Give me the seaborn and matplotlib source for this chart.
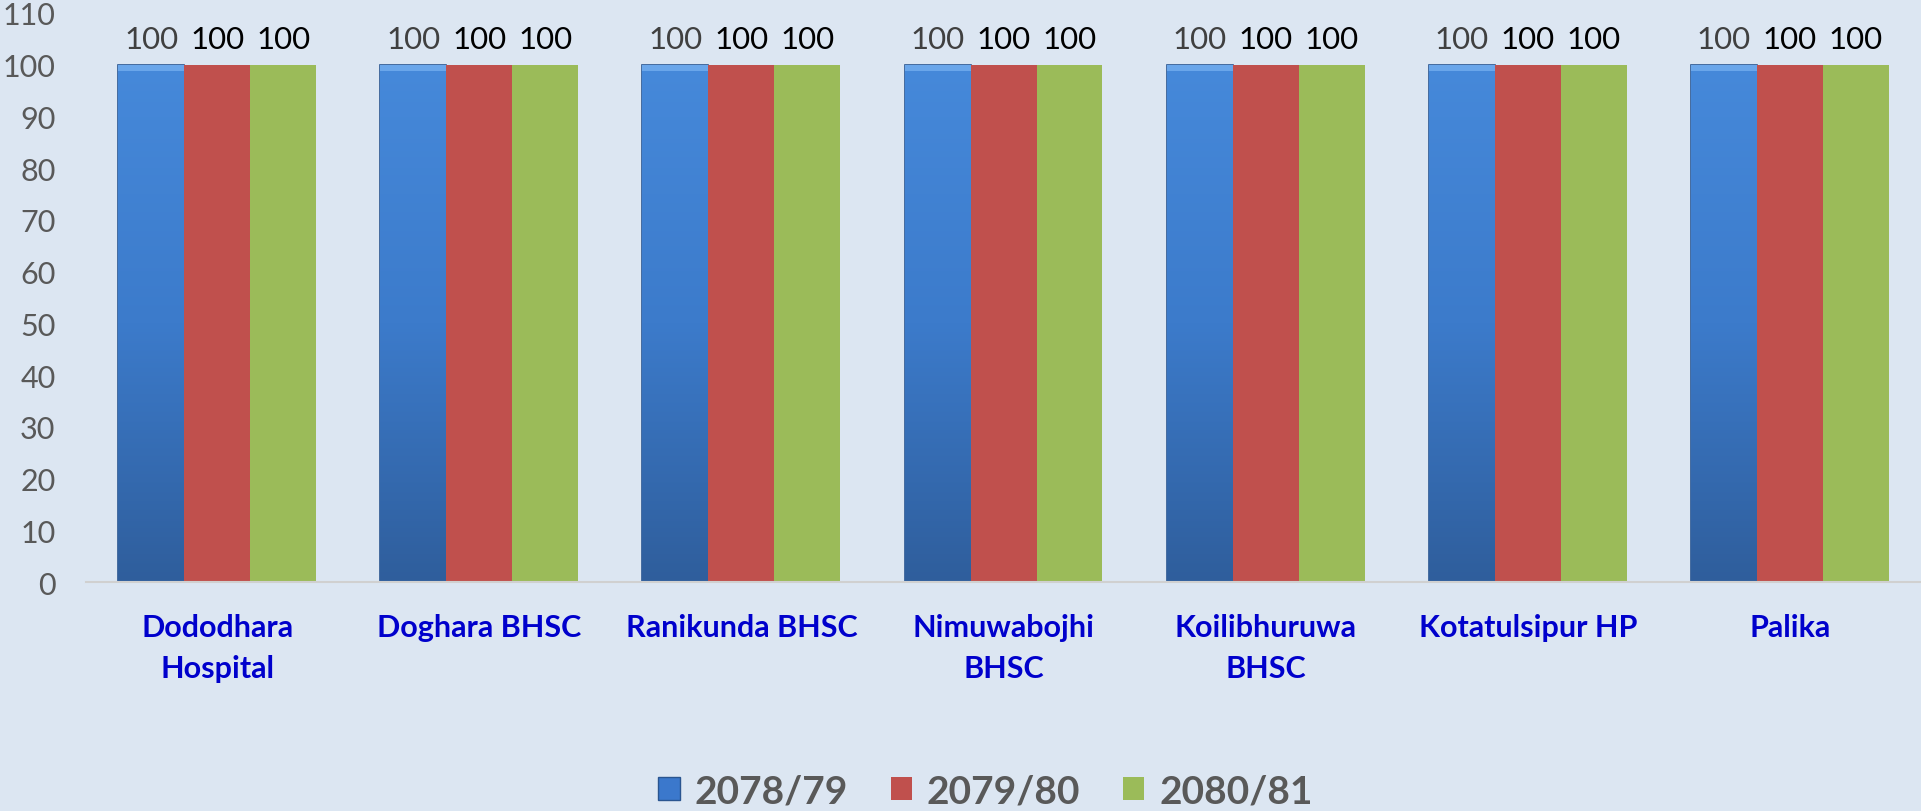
import numpy as np
import pandas as pd
import matplotlib
matplotlib.use('Agg')
import matplotlib.pyplot as plt
import seaborn as sns
from matplotlib.colors import LinearSegmentedColormap
from matplotlib.patches import Patch

sites = ['Dododhara\nHospital', 'Doghara BHSC', 'Ranikunda BHSC', 'Nimuwabojhi\nBHSC',
         'Koilibhuruwa\nBHSC', 'Kotatulsipur HP', 'Palika']
years = ['2078/79', '2079/80', '2080/81']
v_2078 = [100, 100, 100, 100, 100, 100, 100]
v_2079 = [100, 100, 100, 100, 100, 100, 100]
v_2080 = [100, 100, 100, 100, 100, 100, 100]

colors = ['#3B78CC', '#C0504D', '#9BBB59']
bg = '#DCE6F2'

df = pd.DataFrame({
    'site': sites * 3,
    'year': [years[0]] * 7 + [years[1]] * 7 + [years[2]] * 7,
    'value': v_2078 + v_2079 + v_2080,
})

sns.set_style('white')
plt.rcParams['font.family'] = ['Lato', 'DejaVu Sans']

fig = plt.figure(figsize=(19.21, 8.12), dpi=100, facecolor=bg)
ax = fig.add_axes([0.0448, 0.282, 0.9552, 0.701])
ax.set_facecolor(bg)

sns.barplot(data=df, x='site', y='value', hue='year', palette=colors,
            width=0.755, saturation=1, linewidth=0, ax=ax, legend=False)

# gradient fill for the first series
cmap = LinearSegmentedColormap.from_list('blu', ['#2F5E9C', '#3C7BCB', '#4689DA'])
grad = np.linspace(0, 1, 256).reshape(-1, 1)
for bar in ax.containers[0]:
    x0, y0 = bar.get_x(), bar.get_y()
    w, h = bar.get_width(), bar.get_height()
    im = ax.imshow(grad, cmap=cmap, origin='lower', aspect='auto',
                   extent=[x0, x0 + w, y0, y0 + h], zorder=bar.get_zorder() + 0.1)
    im.set_clip_path(bar)
    bar.set_edgecolor('#2A5590')
    bar.set_linewidth(1.2)
    ax.add_patch(plt.Rectangle((x0, y0 + h - 1.3), w, 1.3, color='#6AA6EA',
                               zorder=bar.get_zorder() + 0.2, lw=0))

label_colors = ['#404040', 'black', 'black']
for cont, lc in zip(ax.containers, label_colors):
    ax.bar_label(cont, fmt='%d', padding=8, fontsize=22.5, color=lc)

ax.set_xlim(-0.5, len(sites) - 0.5)
ax.set_ylim(0, 110)
ax.set_yticks(range(0, 111, 10))
ax.tick_params(axis='y', length=0, pad=22, labelsize=22, labelcolor='#595959')
ax.tick_params(axis='x', length=0, pad=22)
for lbl in ax.get_xticklabels():
    lbl.set_fontsize(22)
    lbl.set_fontweight('bold')
    lbl.set_color('#0000CC')
    lbl.set_linespacing(1.6)
ax.set_xlabel('')
ax.set_ylabel('')
for s in ['top', 'right', 'left']:
    ax.spines[s].set_visible(False)
ax.spines['bottom'].set_color('#D0D0D0')
ax.spines['bottom'].set_linewidth(1.5)

handles = [Patch(facecolor=c, edgecolor='none') for c in colors]
handles[0].set_edgecolor('#2A5590')
fig.legend(handles, years, loc='center', bbox_to_anchor=(0.513, 0.025), ncol=3,
           frameon=False, handlelength=0.55, handleheight=0.55, handletextpad=0.38,
           columnspacing=1.1, prop={'size': 28, 'weight': 'bold'},
           labelcolor='#595959')

fig.savefig('out.png', dpi=100, facecolor=bg)
